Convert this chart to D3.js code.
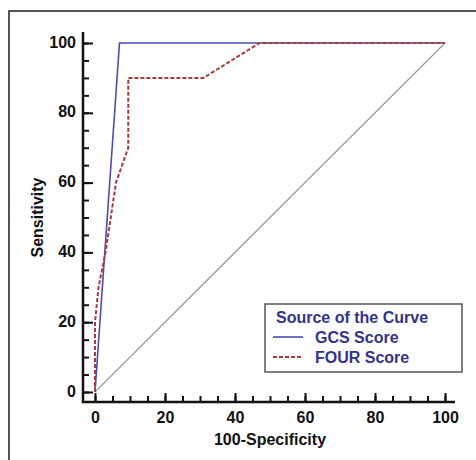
<!DOCTYPE html>
<meta charset="utf-8">
<style>
body { margin: 0; background: #fff; }
svg text { font-family: "Liberation Sans", Arial, sans-serif; font-weight: bold; }
</style>
<body>
<svg width="476" height="460"></svg>
<script src="https://cdn.jsdelivr.net/npm/d3@7"></script>
<script>

// ROC points (100-specificity, sensitivity)
var gcsX = [0, 7, 100];
var gcsY = [0, 100, 100];
var fourX = [0, 0, 1, 3, 6, 9.5, 9.5, 31, 47, 100];
var fourY = [0, 20, 30, 40, 60, 70, 90, 90, 100, 100];
var refX = [0, 100];
var refY = [0, 100];

var majorTicks = [0, 20, 40, 60, 80, 100];
var minorTicks = d3.range(0, 101, 5);
var legendTitle = "Source of the Curve";
var legendNames = ["GCS Score", "FOUR Score"];

var svg = d3.select("svg");

var x = d3.scaleLinear().domain([0, 100]).range([95, 445]);
var y = d3.scaleLinear().domain([0, 100]).range([392, 43]);

var axisX0 = 83, axisY0 = 402;

// outer frame (only top and left edges are visible)
svg.append("rect")
	.attr("x", 9).attr("y", 11)
	.attr("width", 490).attr("height", 480)
	.attr("fill", "none")
	.attr("stroke", "#555")
	.attr("stroke-width", 2);

// y axis
var yMinor = svg.append("g")
	.attr("transform", "translate(" + axisX0 + ",0)")
	.call(d3.axisLeft(y).tickValues(minorTicks).tickSize(-6).tickSizeOuter(0).tickFormat(""));
var yMajor = svg.append("g")
	.attr("transform", "translate(" + axisX0 + ",0)")
	.call(d3.axisLeft(y).tickValues(majorTicks).tickSize(-10).tickSizeOuter(0).tickPadding(7));

// x axis
var xMinor = svg.append("g")
	.attr("transform", "translate(0," + axisY0 + ")")
	.call(d3.axisBottom(x).tickValues(minorTicks).tickSize(-6).tickSizeOuter(0).tickFormat(""));
var xMajor = svg.append("g")
	.attr("transform", "translate(0," + axisY0 + ")")
	.call(d3.axisBottom(x).tickValues(majorTicks).tickSize(-9).tickSizeOuter(0).tickPadding(10));

svg.selectAll(".domain").remove();
svg.selectAll(".tick line").attr("stroke", "#111").attr("stroke-width", 2);
svg.selectAll(".tick text").attr("fill", "#111").style("font-size", "16px");
yMajor.selectAll(".tick text").attr("dy", "0.26em");

svg.append("path")
	.attr("d", "M" + axisX0 + ",32 V" + axisY0 + " H455")
	.attr("fill", "none")
	.attr("stroke", "#111")
	.attr("stroke-width", 2.5);

// axis titles
svg.append("text")
	.attr("x", (x(0) + x(100)) / 2).attr("y", 445)
	.attr("text-anchor", "middle")
	.style("font-size", "16px")
	.attr("fill", "#111")
	.text("100-Specificity");

svg.append("text")
	.attr("transform", "translate(43," + (y(0) + y(100)) / 2 + ") rotate(-90)")
	.attr("text-anchor", "middle")
	.style("font-size", "16px")
	.attr("fill", "#111")
	.text("Sensitivity");

var line = d3.line()
	.x(function(d){ return x(d[0]); })
	.y(function(d){ return y(d[1]); });

// reference diagonal
svg.append("path")
	.attr("d", line(d3.zip(refX, refY)))
	.attr("fill", "none")
	.attr("stroke", "#999")
	.attr("stroke-width", 1.2);

svg.append("path")
	.attr("d", line(d3.zip(gcsX, gcsY)))
	.attr("fill", "none")
	.attr("stroke", "#4b4bb5")
	.attr("stroke-width", 1.6);

svg.append("path")
	.attr("d", line(d3.zip(fourX, fourY)))
	.attr("fill", "none")
	.attr("stroke", "#a83a3a")
	.attr("stroke-width", 2)
	.attr("stroke-dasharray", "4,2");

// legend
var legend = svg.append("g");
legend.append("rect")
	.attr("x", 265).attr("y", 304)
	.attr("width", 197).attr("height", 68)
	.attr("fill", "#fff")
	.attr("stroke", "#555")
	.attr("stroke-width", 1.5);

legend.append("text")
	.attr("x", 276).attr("y", 323)
	.style("font-size", "16px")
	.attr("fill", "#33338a")
	.text(legendTitle);

var legendStyles = [
	{ stroke: "#4b4bb5", dash: null, width: 1.6 },
	{ stroke: "#a83a3a", dash: "4,2", width: 2 }
];

legendNames.forEach(function(name, i){
	var yy = 337 + i * 20;
	legend.append("line")
		.attr("x1", 273).attr("x2", 303)
		.attr("y1", yy).attr("y2", yy)
		.attr("stroke", legendStyles[i].stroke)
		.attr("stroke-width", legendStyles[i].width)
		.attr("stroke-dasharray", legendStyles[i].dash);
	legend.append("text")
		.attr("x", 315).attr("y", yy + 6)
		.style("font-size", "16px")
		.attr("fill", "#33338a")
		.text(name);
});

</script>
</body>
</html>
